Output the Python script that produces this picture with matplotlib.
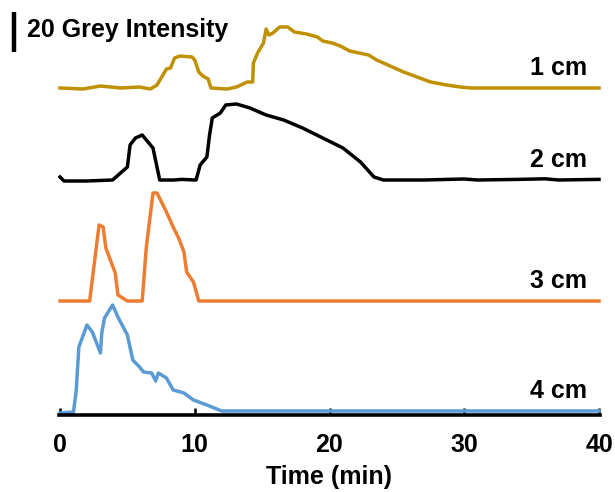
import matplotlib
matplotlib.use("Agg")
import matplotlib.pyplot as plt

plt.rcParams['font.family'] = ['Liberation Sans', 'DejaVu Sans']
plt.rcParams['font.weight'] = 'bold'

# Grey intensity profiles (above each trace's own baseline) versus time (min)
t_1cm = [0, 1.7, 3.0, 4.5, 5.9, 6.7, 7.2, 7.9, 8.2, 8.5, 8.9, 9.8, 10.0, 10.3, 10.6, 11.0,
         11.2, 12.4, 13.1, 13.9, 14.3, 14.35, 14.7, 15.1, 15.3, 15.5, 15.8, 16.3, 16.9, 17.4,
         18.3, 19.1, 19.5, 20.2, 20.8, 21.5, 22.9, 23.5, 24.5, 25.5, 26.5, 27.5, 28.7, 29.7,
         30.5, 40]
i_1cm = [0, -0.5, 1, 0, 0.5, -0.5, 1.5, 9.5, 10, 15, 16, 15.5, 14, 8, 6, 4.5,
         0, -0.5, 0.5, 3, 3, 12.5, 18, 22.5, 29.5, 26.5, 27.5, 30.5, 30.5, 28,
         27, 25.5, 23.5, 22.5, 21, 18.5, 16.5, 14, 11, 8, 5.5, 3, 1.5, 0.5,
         0, 0]

t_2cm = [0, 0.3, 2.0, 3.9, 5.0, 5.2, 5.6, 6.1, 6.9, 7.4, 8.5, 9.0, 10.1, 10.4, 10.9, 11.1,
         11.3, 11.9, 12.3, 13.1, 14.1, 15.3, 16.6, 18.0, 19.5, 21.0, 22.3, 23.3, 24.0,
         27.0, 30.0, 31.0, 34.0, 36.0, 37.0, 40]
i_2cm = [1.5, -0.5, -0.5, 0, 6.5, 17.5, 21, 22.5, 16, 0, 0, 0.3, 0, 7.5, 11.5, 22.5,
         31, 33.5, 37.5, 38, 36, 32.5, 30, 26, 21, 16, 9, 1.5, 0,
         0, 0.5, 0, 0.3, 0.6, 0, 0.3]

t_3cm = [0, 2.2, 2.9, 3.2, 3.4, 4.1, 4.3, 5.0, 6.1, 6.4, 6.9, 7.2, 7.9, 8.4, 8.8, 9.2,
         9.4, 9.9, 10.3, 40]
i_3cm = [0, 0, 38, 37, 26.5, 14, 3, 0, 0, 26.5, 54, 54, 44.5, 37, 31.5, 24.5,
         14.5, 9.5, 0, 0]

t_4cm = [0, 1.0, 1.2, 1.4, 2.0, 2.4, 3.0, 3.1, 3.3, 3.9, 4.3, 5.0, 5.4, 5.9, 6.2, 6.8,
         7.1, 7.3, 7.9, 8.4, 9.2, 9.9, 10.9, 12.0, 40]
i_4cm = [-1, -0.5, 10, 32, 43, 39.5, 29, 39, 46.5, 53, 47, 38, 25.5, 22, 19.5, 19,
         15, 19, 16.5, 10.5, 9, 5.5, 3, 0, 0]

labels = ['1 cm', '2 cm', '3 cm', '4 cm']
x_ticks = [0, 10, 20, 30, 40]

series = [(t_1cm, i_1cm), (t_2cm, i_2cm), (t_3cm, i_3cm), (t_4cm, i_4cm)]
offsets = [163.5, 117.5, 57, 2]
colors = ['#BF9000', '#000000', '#ED7D31', '#5B9BD5']
FS = 18

fig = plt.figure(figsize=(6.15, 4.92), dpi=100)
ax = fig.add_axes([60 / 615, 77 / 492, 539 / 615, 410 / 492])

for (t, v), off, c, lab in zip(series, offsets, colors, labels):
    ax.plot(t, [val + off for val in v], color=c, lw=2.5, solid_joinstyle='round',
            clip_on=False)
    ax.text(39.1, off + 10, lab, ha='right', va='center', fontsize=FS,
            fontweight='bold', color='black')

ax.set_xlim(0, 40)
ax.set_ylim(0, 205)
for s in ['top', 'right', 'left']:
    ax.spines[s].set_visible(False)
ax.spines['bottom'].set_linewidth(2.6)
ax.spines['bottom'].set_bounds(-0.1, 40.1)
ax.set_yticks([])
ax.set_xticks(x_ticks)
ax.set_xticklabels([str(v) for v in x_ticks], fontsize=FS, fontweight='bold')
ax.tick_params(axis='x', direction='in', length=5, width=1.8, pad=13)
ax.set_xlabel('Time (min)', fontsize=FS, fontweight='bold', labelpad=6)

# 20-unit intensity scale bar
ax.plot([-3.4, -3.4], [181.5, 201.5], color='black', lw=3.2, clip_on=False,
        solid_capstyle='butt')
ax.text(-2.45, 192.5, '20 Grey Intensity', ha='left', va='center', fontsize=FS,
        fontweight='bold', color='black')

fig.savefig('out.png', dpi=100)
